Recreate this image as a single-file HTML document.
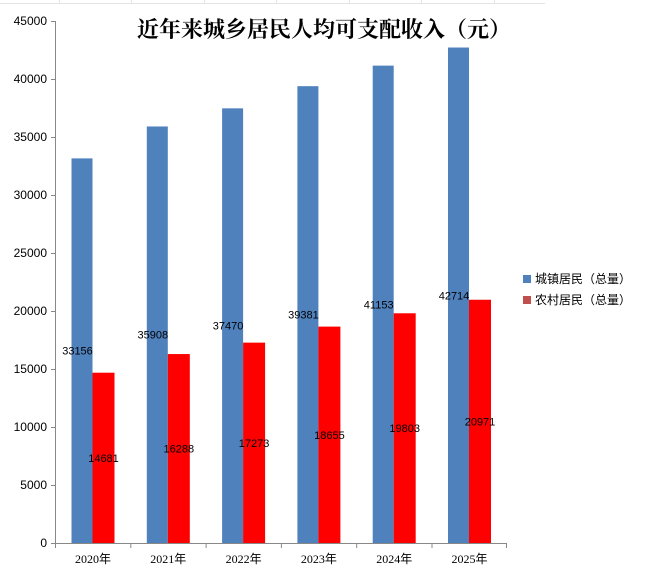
<!DOCTYPE html>
<html><head><meta charset="utf-8"><style>body{margin:0;background:#fff}svg{display:block}</style></head><body>
<svg width="649" height="578" xmlns="http://www.w3.org/2000/svg" font-family="Liberation Serif, Noto Serif CJK SC, serif">
<g stroke="#e4e4e4" stroke-width="1">
<line x1="0" y1="3.5" x2="545" y2="3.5"/>
<line x1="59.5" y1="0" x2="59.5" y2="4"/><line x1="131.5" y1="0" x2="131.5" y2="4"/><line x1="204.5" y1="0" x2="204.5" y2="4"/><line x1="276.5" y1="0" x2="276.5" y2="4"/><line x1="349.5" y1="0" x2="349.5" y2="4"/><line x1="421.5" y1="0" x2="421.5" y2="4"/><line x1="494.5" y1="0" x2="494.5" y2="4"/>
</g>
<text x="324" y="37" text-anchor="middle" font-size="22" font-weight="bold" font-family="Noto Serif CJK SC, serif">近年来城乡居民人均可支配收入（元）</text>
<g stroke="#888" stroke-width="1">
<line x1="55.5" y1="21" x2="55.5" y2="543"/>
<line x1="55" y1="543.5" x2="506" y2="543.5"/>
</g>
<g id="bars"></g>
<g font-size="12" text-anchor="end" fill="#000" font-family="Liberation Sans, sans-serif" id="yl"></g>
<g font-size="12" text-anchor="middle" font-family="Liberation Serif, Noto Sans CJK SC, serif" id="xl"></g>
<rect x="523" y="275" width="8" height="8" fill="#4f81bd"/>
<text x="535" y="283" font-size="12" font-family="Noto Sans CJK SC, sans-serif">城镇居民（总量）</text>
<rect x="523" y="296" width="8" height="8" fill="#c0504d"/>
<text x="535" y="304" font-size="12" font-family="Noto Sans CJK SC, sans-serif">农村居民（总量）</text>
<script>
var u=[33156,35908,37470,39381,41153,42714],r=[14681,16288,17273,18655,19803,20971];
var s=522/45000,z=543,ns="http://www.w3.org/2000/svg";
function el(t,a,p,txt){var e=document.createElementNS(ns,t);for(var k in a)e.setAttribute(k,a[k]);if(txt!=null)e.textContent=txt;document.querySelector(p).appendChild(e);}
for(var i=0;i<=9;i++){var y=z-i*5000*s;el('line',{x1:51,y1:y+.5,x2:55,y2:y+.5,stroke:'#888'},'svg');el('text',{x:47,y:y+4},'#yl',i*5000);}
for(var i=0;i<6;i++){var x0=55+i*75.3;
el('line',{x1:x0+.5,y1:543,x2:x0+.5,y2:548,stroke:'#888'},'svg');
var bx=x0+16.5;
el('rect',{x:bx,y:z-u[i]*s,width:21,height:u[i]*s,fill:'#4f81bd'},'#bars');
el('rect',{x:bx+21,y:z-r[i]*s,width:22,height:r[i]*s,fill:'#ff0000'},'#bars');
el('text',{x:x0+38,y:563},'#xl',(2020+i)+'年');
el('text',{x:bx+6,y:z-u[i]*s/2+4,'text-anchor':'middle','font-size':11,'font-family':'Liberation Sans, sans-serif'},'svg',u[i]);
el('text',{x:bx+32,y:z-r[i]*s/2+4,'text-anchor':'middle','font-size':11,'font-family':'Liberation Sans, sans-serif'},'svg',r[i]);
}
el('line',{x1:506.5,y1:543,x2:506.5,y2:548,stroke:'#888'},'svg');
</script>
</svg>
</body></html>
